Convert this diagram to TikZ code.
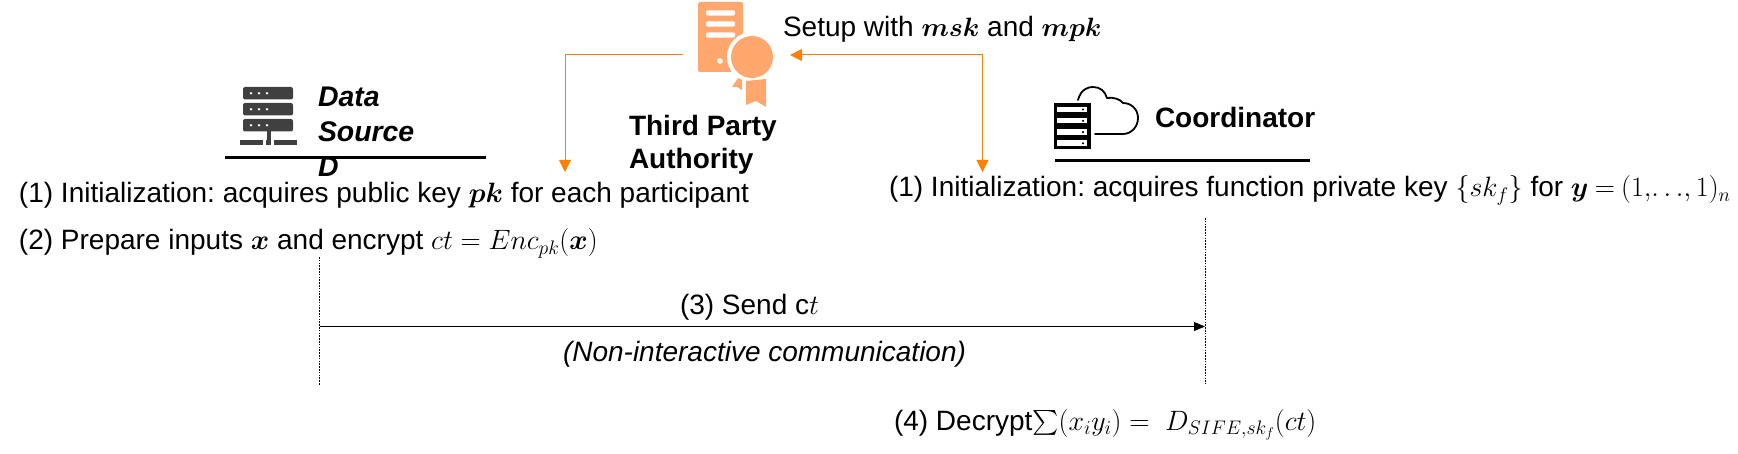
\RequirePackage{fix-cm}
\documentclass[tikz,border=0pt]{standalone}
\usepackage{amsmath}
\usepackage{bm}
\usepackage{fontspec}
\setmainfont{Liberation Sans}
\usetikzlibrary{arrows.meta}
\definecolor{certfill}{HTML}{FFA76D}
\definecolor{orangeline}{HTML}{FF8000}
\definecolor{icongray}{HTML}{404040}
\tikzset{
  x=1pt,y=-1pt,
  txt/.style={anchor=base west,inner sep=0pt,outer sep=0pt,font=\fontsize{28}{32}\selectfont\frenchspacing},
  boldtxt/.style={txt,font=\fontsize{28}{32}\selectfont\bfseries},
  bolditxt/.style={txt,font=\fontsize{28.4}{32}\selectfont\bfseries\itshape},
  orangearrow/.style={draw=orangeline,line width=1pt,-{Triangle[length=12pt,width=12pt,fill=orangeline]}},
  rule/.style={line width=3pt},
  lifeline/.style={line width=0.7pt,dash pattern=on 1.6pt off 1.2pt},
  msg/.style={line width=0.9pt,-{Triangle[length=11pt,width=9pt]}}
}
\newcommand{\bmsmall}[1]{{\fontsize{26.5}{30}\selectfont$\bm{#1}$}}
\begin{document}
\begin{tikzpicture}
\useasboundingbox (0,0) rectangle (1738,454);
% certificate icon
\fill[certfill,rounded corners=1.5pt] (698,2) rectangle (743,72);
\foreach \yy in {13,24,35}{\fill[white,rounded corners=2pt] (706,\yy-2.7) rectangle (735,\yy+2.7);}
\fill[white] (720,61) circle (2.8);
\fill[white] (752,57) circle (25);
\fill[certfill] (752,57) circle (21);
\fill[certfill] (746,81) -- (766,79) -- (766,107) -- (756,101) -- (746,105) -- cycle;
\fill[certfill] (738,78) -- (742,80) -- (742,90) -- (737,87) -- (732,87) -- cycle;
\coordinate (tpaL) at (683,55);
\coordinate (tpaR) at (790,55);
\coordinate (cornerL) at (565,55);
\coordinate (cornerR) at (982.5,55);
\coordinate (dsIn) at (565,172);
\coordinate (coIn) at (982.5,172);
\draw[orangearrow] (tpaL) -- (cornerL) -- (dsIn);
\draw[orangearrow] (cornerR) -- (tpaR);
\draw[orangearrow] (cornerR) -- (coIn);
\node[txt] (setup) at (783,37) {Setup with \bmsmall{msk} and \bmsmall{mpk}};
\node[boldtxt] (tpa1) at (629,136) {Third Party};
\node[boldtxt] (tpa2) at (629,169) {Authority};
% data source icon
\foreach \yy in {87,103,119}{
  \fill[icongray,rounded corners=2pt] (243,\yy) rectangle (293,\yy+12.5);
  \foreach \xx in {259,267,275}{\fill[white] (\xx-8,\yy+6.2) circle (1.4);}
}
\fill[icongray] (266.5,131) rectangle (270.5,140);
\fill[icongray] (240,140.5) rectangle (263,145.5);
\fill[icongray] (266,140.5) rectangle (271,145.5);
\fill[icongray] (274,140.5) rectangle (297,145.5);
\node[bolditxt] (ds1) at (318,107) {Data};
\node[bolditxt] (ds2) at (318,142) {Source};
\node[bolditxt] (ds3) at (318,177) {D};
\draw[rule] (225,157.5) -- (486,157.5);
% coordinator icon
\fill[black] (1054,103) rectangle (1091,149);
\foreach \yy in {106.7,118,129.3,140.5}{
  \fill[white] (1057,\yy) rectangle (1087,\yy+5.5);
  \fill[black] (1083,\yy+2.8) circle (1.2);
}
\draw[black,line width=1.8pt,line cap=round] (1078,100)
  .. controls (1081,89) and (1088,87) .. (1093,87)
  .. controls (1100,87) and (1105,91) .. (1107,98)
  .. controls (1113,97) and (1120,99) .. (1123,103)
  .. controls (1132,103) and (1138,110) .. (1138,118)
  .. controls (1138,127) and (1131,134) .. (1123,134)
  -- (1095,134);
\node[boldtxt] (co) at (1155,128) {Coordinator};
\draw[rule] (1055,161) -- (1310,161);
% left text
\node[txt] (l1) at (19,203) {(1) Initialization: acquires public key $\bm{pk}$ for each participant};
\node[txt] (l2) at (19,250) {(2) Prepare inputs $\bm{x}$ and encrypt $ct=Enc_{pk}(\bm{x})$};
% right text
\node[txt] (r1) at (889,197) {(1) Initialization: acquires function private key $\{sk_f\}$ for $\bm{y}\mskip-1mu=\mskip-1mu(1,\!\ldots\!,1)_n$};
% lifelines and message
\coordinate (dsTop) at (319.5,257);
\coordinate (dsBot) at (319.5,385);
\coordinate (coTop) at (1205,218);
\coordinate (coBot) at (1205,384);
\coordinate (msgA) at (319.5,326.5);
\coordinate (msgB) at (1205,326.5);
\draw[lifeline] (dsTop) -- (dsBot);
\draw[lifeline] (coTop) -- (coBot);
\draw[msg] (msgA) -- (msgB);
\node[txt] (send) at (680,315) {(3) Send $\mathrm{c}t$};
\node[txt,font=\fontsize{28}{32}\selectfont\itshape] (nonint) at (563,362) {(Non-interactive communication)};
\node[txt] (r4) at (894,430) {(4) Decrypt$\sum(x_iy_i)=\;D_{SIFE,sk_f}(ct)$};
\end{tikzpicture}
\end{document}
